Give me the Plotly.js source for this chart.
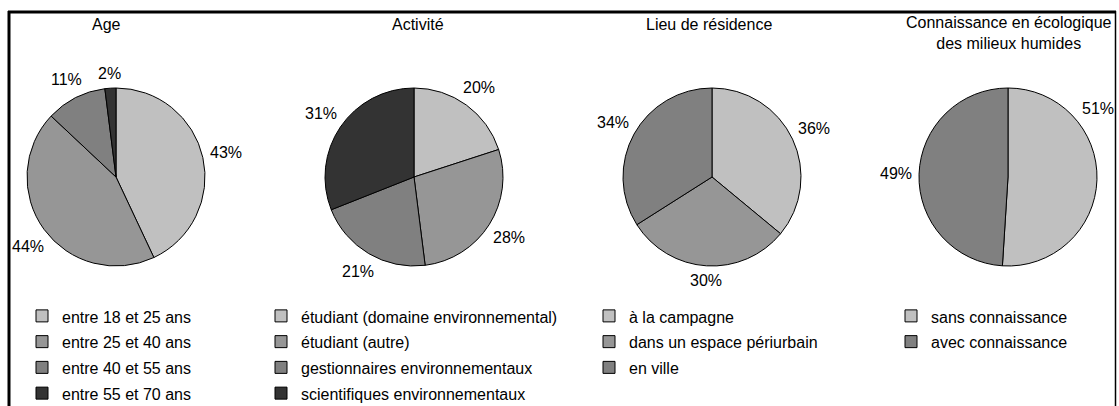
<!DOCTYPE html>
<html>
<head>
<meta charset="utf-8">
<script src="https://cdn.plot.ly/plotly-3.0.1.min.js"></script>
<style>html,body{margin:0;padding:0;background:#fff;}#chart{width:1119px;height:406px;}</style>
</head>
<body>
<div id="chart"></div>
<script>
// ---- Data ----
const ageLabels = ["entre 18 et 25 ans", "entre 25 et 40 ans", "entre 40 et 55 ans", "entre 55 et 70 ans"];
const ageValues = [43, 44, 11, 2];

const activiteLabels = ["étudiant (domaine environnemental)", "étudiant (autre)", "gestionnaires environnementaux", "scientifiques environnementaux"];
const activiteValues = [20, 28, 21, 31];

const lieuLabels = ["à la campagne", "dans un espace périurbain", "en ville"];
const lieuValues = [36, 30, 34];

const connLabels = ["sans connaissance", "avec connaissance"];
const connValues = [51, 49];

const titles = ["Age", "Activité", "Lieu de résidence", "Connaissance en écologique<br>des milieux humides"];

// ---- Styles ----
const W = 1119, H = 406;
const FONT = "Liberation Sans, Arial, sans-serif";
const FS = 16;
const cLight = "#C0C0C0", cMed = "#969696", cDark = "#808080", cDarkest = "#333333";
const FRAME_L = 9, FRAME_R = 1115;

function px(x) { return x / W; }
function py(y) { return (H - y) / H; }

function legendText(l) { return '<span style="font-size:' + FS + 'px">' + l + '</span>'; }

function pieTrace(labels, values, colors, cx, cy, r, legendId) {
  return {
    type: "pie",
    labels: labels.map(legendText),
    values: values,
    sort: false,
    direction: "clockwise",
    rotation: 0,
    marker: { colors: colors, line: { color: "#000", width: 1 } },
    textinfo: "none",
    hoverinfo: "none",
    domain: { x: [px(cx - r), px(cx + r)], y: [py(cy + r), py(cy - r)] },
    legend: legendId,
    showlegend: true
  };
}

// percentage labels placed just outside each slice, derived from the values
function sliceLabels(values, cx, cy, r) {
  const total = values.reduce((a, b) => a + b, 0);
  const gap = 7, h = 13;
  const out = [];
  let cum = 0;
  values.forEach(v => {
    const txt = v + "%";
    const w = (String(v).length * 0.556 + 0.889) * FS;
    const start = cum / total * 2 * Math.PI;
    let ang = (cum + v / 2) / total * 2 * Math.PI;
    let x, y;
    for (let k = 0; k < 200; k++) {
      const dx = Math.sin(ang), dy = -Math.cos(ang);
      const D = r + gap + Math.abs(dx) * w / 2 + Math.abs(dy) * h / 2;
      x = cx + D * dx; y = cy + D * dy;
      if (x + w / 2 <= FRAME_R - 1 && x - w / 2 >= FRAME_L + 2) break;
      ang -= 0.01; // slide back toward the slice start until it fits in the frame
      if (ang < start) break;
    }
    out.push({
      text: txt, x: px(x), y: py(y), xref: "paper", yref: "paper",
      xanchor: "center", yanchor: "middle", showarrow: false,
      font: { family: FONT, size: FS, color: "#000" }
    });
    cum += v;
  });
  return out;
}

const R = 89, CY = 177;
const pies = [
  [ageLabels, ageValues, [cLight, cMed, cDark, cDarkest], 116, "legend"],
  [activiteLabels, activiteValues, [cLight, cMed, cDark, cDarkest], 414, "legend2"],
  [lieuLabels, lieuValues, [cLight, cMed, cDark], 712, "legend3"],
  [connLabels, connValues, [cLight, cDark], 1008, "legend4"]
];
const data = pies.map(p => pieTrace(p[0], p[1], p[2], p[3], CY, R, p[4]));

function legendAt(x, y) {
  return {
    x: px(x), y: py(y), xanchor: "left", yanchor: "top",
    orientation: "v",
    font: { family: FONT, size: 17.5, color: "#000" },
    bgcolor: "rgba(0,0,0,0)",
    traceorder: "normal",
    itemclick: false, itemdoubleclick: false
  };
}

const titlePos = [[106, 25], [418, 25], [709, 25], [1009, 33]];
let annotations = titles.map((t, i) => ({
  text: t, x: px(titlePos[i][0]), y: py(titlePos[i][1]),
  xref: "paper", yref: "paper", xanchor: "center", yanchor: "middle",
  showarrow: false, font: { family: FONT, size: FS, color: "#000" }
}));
pies.forEach(p => { annotations = annotations.concat(sliceLabels(p[1], p[3], CY, R)); });

const layout = {
  width: W, height: H,
  margin: { l: 0, r: 0, t: 0, b: 0, autoexpand: false },
  paper_bgcolor: "#fff",
  plot_bgcolor: "#fff",
  font: { family: FONT, size: FS, color: "#000" },
  legend: legendAt(22, 298),
  legend2: legendAt(261, 298),
  legend3: legendAt(589, 298),
  legend4: legendAt(891, 298),
  annotations: annotations,
  shapes: [
    { type: "line", xref: "paper", yref: "paper", x0: px(FRAME_L), x1: px(FRAME_L), y0: py(11), y1: py(410), line: { color: "#000", width: 3 } },
    { type: "line", xref: "paper", yref: "paper", x0: px(8), x1: px(FRAME_R + 1), y0: py(12), y1: py(12), line: { color: "#000", width: 3 } },
    { type: "line", xref: "paper", yref: "paper", x0: px(FRAME_R + 0.5), x1: px(FRAME_R + 0.5), y0: py(11), y1: py(410), line: { color: "#000", width: 1.5 } }
  ]
};

Plotly.newPlot("chart", data, layout, { displayModeBar: false, staticPlot: true });
</script>
</body>
</html>
